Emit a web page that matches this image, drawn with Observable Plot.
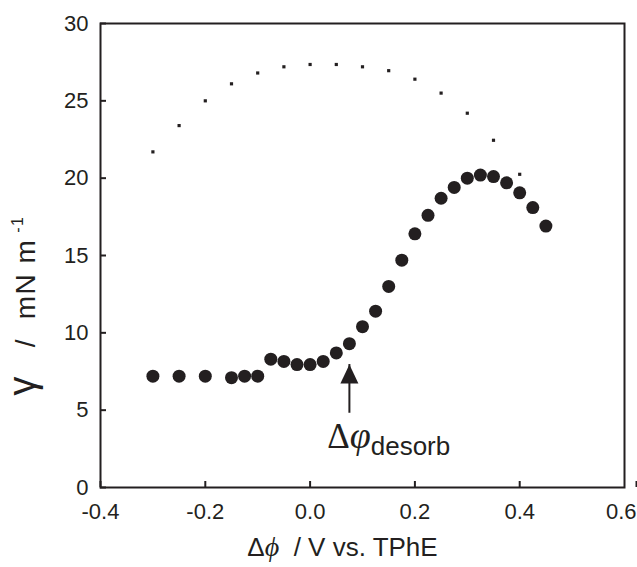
<!DOCTYPE html>
<html><head><meta charset="utf-8">
<script src="https://cdn.jsdelivr.net/npm/d3@7"></script>
<script src="https://cdn.jsdelivr.net/npm/@observablehq/plot@0.6"></script>
<style>body{margin:0;background:#fff}</style>
</head><body><div id="chart"></div>
<script>
// lower curve (large filled circles)
const potentialLipid = [-0.30,-0.25,-0.20,-0.15,-0.125,-0.10,-0.075,-0.05,-0.025,0.00,0.025,0.05,0.075,0.10,0.125,0.15,0.175,0.20,0.225,0.25,0.275,0.30,0.325,0.35,0.375,0.40,0.425,0.45];
const tensionLipid   = [7.2,7.2,7.2,7.1,7.2,7.2,8.3,8.15,7.95,7.95,8.15,8.7,9.3,10.4,11.4,13.0,14.7,16.4,17.6,18.7,19.4,20.0,20.2,20.1,19.7,19.05,18.1,16.9];
// upper curve (small squares)
const potentialBare = [-0.30,-0.25,-0.20,-0.15,-0.10,-0.05,0.00,0.05,0.10,0.15,0.20,0.25,0.30,0.35,0.40];
const tensionBare   = [21.7,23.4,25.0,26.1,26.8,27.2,27.35,27.35,27.2,26.95,26.4,25.5,24.2,22.45,20.25];
// axes
const xTicks = [-0.4,-0.2,0.0,0.2,0.4,0.6];
const yTicks = [0,5,10,15,20,25,30];
// annotation: desorption potential arrow
const desorbX = [0.075];
const arrowFrom = [4.8];
const arrowTo = [7.95];
const labelX = [0.15];
const labelY = [3.0];

const ink = "#231f20";
const lipid = potentialLipid.map((x, i) => ({x, y: tensionLipid[i]}));
const bare = potentialBare.map((x, i) => ({x, y: tensionBare[i]}));
const arrow = desorbX.map((x, i) => ({x, y1: arrowFrom[i], y2: arrowTo[i]}));
const label = labelX.map((x, i) => ({x, y: labelY[i]}));

const tipDown = {
  draw(ctx, size) {
    const h = 19, w = 9;
    ctx.moveTo(0, 0); ctx.lineTo(w, h); ctx.lineTo(-w, h); ctx.closePath();
  }
};
const fmt = d => d.toFixed(1);
const axisStyle = {tickSize: -6, strokeWidth: 2, stroke: ink, fill: ink, label: null};

const chart = Plot.plot({
  width: 637, height: 567,
  marginTop: 23, marginRight: 13, marginBottom: 80, marginLeft: 100,
  style: {fontFamily: "'Liberation Sans', Arial, sans-serif", fontSize: "22px", color: ink, background: "#fff"},
  x: {domain: [-0.4, 0.6]},
  y: {domain: [0, 30]},
  marks: [
    Plot.axisX({...axisStyle, ticks: xTicks.slice(0, -1), tickFormat: fmt, tickPadding: 22}),
    Plot.axisX({...axisStyle, ticks: xTicks.slice(-1), tickFormat: fmt, tickPadding: 22, textAnchor: "end", dx: 12}),
    Plot.axisY({...axisStyle, ticks: yTicks, tickPadding: 18}),
    Plot.frame({stroke: ink, strokeWidth: 2}),
    Plot.dot(bare, {x: "x", y: "y", symbol: "square", r: 1.8, fill: ink}),
    Plot.dot(lipid, {x: "x", y: "y", r: 6.5, fill: ink}),
    Plot.ruleX(arrow, {x: "x", y1: "y1", y2: "y2", stroke: ink, strokeWidth: 2}),
    Plot.dot(arrow, {x: "x", y: "y2", symbol: tipDown, r: 6, fill: ink, stroke: null}),
    Plot.text(label, {x: "x", y: "y", text: () => "Δφdesorb", className: "desorb", fill: ink}),
    Plot.text([0], {frameAnchor: "bottom", text: () => "Δϕ / V vs. TPhE", dx: -20, dy: 68, className: "xlab", fill: ink, fontSize: 26}),
    Plot.text([0], {frameAnchor: "left", textAnchor: "start", text: () => "γ / mN m-1", rotate: -90, dx: -74, dy: 140, className: "ylab", fill: ink, fontSize: 28})
  ]
});
document.getElementById("chart").append(chart);

const svg = d3.select(chart);
svg.select(".desorb text").each(function() {
  const t = d3.select(this).text("");
  t.append("tspan").attr("font-family", "'Liberation Serif', serif").attr("font-size", 35).text("Δ");
  t.append("tspan").attr("font-family", "'Liberation Serif', serif").attr("font-style", "italic").attr("font-size", 38).text("φ");
  t.append("tspan").attr("font-size", 26).attr("dy", "0.25em").text("desorb");
});
svg.select(".xlab text").each(function() {
  const t = d3.select(this).text("");
  t.append("tspan").text("Δ");
  t.append("tspan").attr("font-family", "'Liberation Serif', serif").attr("font-style", "italic").attr("font-size", 28).text("ϕ");
  t.append("tspan").text("\u00a0 / V vs. TPhE");
});
svg.select(".ylab text").each(function() {
  const t = d3.select(this).text("").attr("letter-spacing", 1.5);
  t.append("tspan").attr("font-size", 38).text("γ");
  t.append("tspan").text("\u00a0\u00a0\u00a0/\u00a0 mN m");
  t.append("tspan").attr("font-size", 16).attr("dy", "-0.75em").text("\u00a0-1");
});
</script>
</body></html>
